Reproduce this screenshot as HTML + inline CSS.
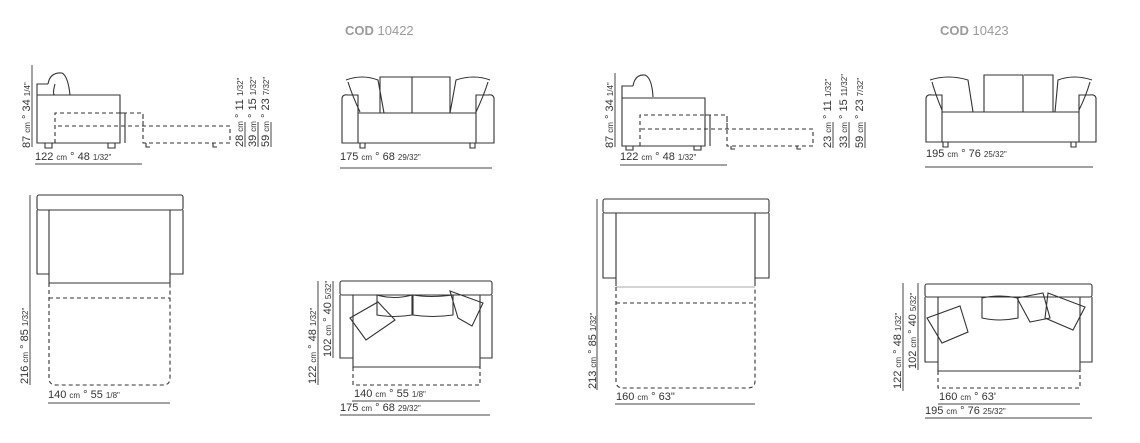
<!DOCTYPE html>
<html><head><meta charset="utf-8"><style>
html,body{margin:0;padding:0;background:#fff;}
svg{display:block;}
text{font-family:"Liberation Sans",sans-serif;fill:#333;}
.s{fill:none;stroke:#333;stroke-width:1.1;}
.d{fill:none;stroke:#333;stroke-width:1.1;stroke-dasharray:4 3;}
.l{fill:none;stroke:#444;stroke-width:1;}
.t{font-size:11px;}
.h{font-size:13px;font-weight:bold;fill:#9a9a9a;}
</style></head><body>
<svg width="1140" height="443" viewBox="0 0 1140 443" xmlns="http://www.w3.org/2000/svg">
<text class="h" x="345" y="35">COD <tspan font-weight="normal">10422</tspan></text>
<text class="h" x="940" y="35">COD <tspan font-weight="normal">10423</tspan></text>

<!-- Side view 1 -->
<path class="s" d="M37 143V84H48 M48 84 Q50 72 62 73 Q68 76 70 95 M55 84 Q52 95 55 95 M37 95H120V143H37 Z"/>
<path class="s" d="M120 113H125V143 M45 143v5h7v-5 M108 143v5h7v-5 M146 143v4h4 M213 143v4h4"/>
<path class="d" d="M55 143V113H143V143H230V126H55 M143 126V113"/>
<line class="l" x1="32" y1="65" x2="32" y2="147"/>
<text class="t" transform="translate(30,148) rotate(-90)">87 <tspan font-size="8">cm</tspan> ° 34 <tspan font-size="8">1/4"</tspan></text>
<text class="t" x="35" y="160">122 <tspan font-size="8">cm</tspan> ° 48 <tspan font-size="8">1/32"</tspan></text>
<line class="l" x1="35" y1="164" x2="142" y2="164"/>
<text class="t" transform="translate(243,147) rotate(-90)">28 <tspan font-size="8">cm</tspan> ° 11 <tspan font-size="8">1/32"</tspan></text>
<text class="t" transform="translate(256,147) rotate(-90)">39 <tspan font-size="8">cm</tspan> ° 15 <tspan font-size="8">1/32"</tspan></text>
<text class="t" transform="translate(269,147) rotate(-90)">59 <tspan font-size="8">cm</tspan> ° 23 <tspan font-size="8">7/32"</tspan></text>
<path class="l" d="M245 147V122 M258 147V122 M271 147V122"/>

<!-- Front view 1 -->
<path class="s" d="M342 143V98Q343 94 348 95H358V143Z M494 143V98Q493 94 488 95H476V143Z M358 113H476 M358 143H476"/>
<path class="s" d="M346 80Q362 74 378 80L384 113 M348 82Q352 95 360 112 M380 113V77H412V113 M412 77H450V113 M490 80Q474 74 456 80L450 113 M488 82Q484 95 476 112"/>
<path class="s" d="M360 143v5h5v-5 M470 143v5h5v-5"/>
<text class="t" x="340" y="160">175 <tspan font-size="8">cm</tspan> ° 68 <tspan font-size="8">29/32"</tspan></text>
<line class="l" x1="340" y1="168" x2="492" y2="168"/>

<!-- Plan view 1 -->
<rect class="s" x="37" y="195" width="146" height="15" rx="2"/>
<path class="s" d="M37 210V274H49 M183 210V274H170 M49 210H170V283H49Z"/>
<path class="d" d="M49 283V378Q49 385 56 385H163Q170 385 170 378V283 M49 298H170"/>
<line class="l" x1="30" y1="195" x2="30" y2="385"/>
<text class="t" transform="translate(28,384) rotate(-90)">216 <tspan font-size="8">cm</tspan> ° 85 <tspan font-size="8">1/32"</tspan></text>
<text class="t" x="48" y="398">140 <tspan font-size="8">cm</tspan> ° 55 <tspan font-size="8">1/8"</tspan></text>
<line class="l" x1="48" y1="403" x2="170" y2="403"/>

<!-- Plan view 2 -->
<rect class="s" x="340" y="281" width="152" height="14" rx="2"/>
<path class="s" d="M340 295V358H353 M492 295V358H480 M353 295V367H480V295"/>
<path class="d" d="M353 367V385H480V367"/>
<path class="s" d="M377 295Q394 300 412 295V315Q394 318 377 315Z M413 295Q430 298 453 295V315Q432 318 413 315Z M350 318L378 302L395 320L366 340Z M450 291L483 303L472 326L458 318Z"/>
<path class="l" d="M318 281V385 M333 281V358"/>
<text class="t" transform="translate(316,384) rotate(-90)">122 <tspan font-size="8">cm</tspan> ° 48 <tspan font-size="8">1/32"</tspan></text>
<text class="t" transform="translate(331,357) rotate(-90)">102 <tspan font-size="8">cm</tspan> ° 40 <tspan font-size="8">5/32"</tspan></text>
<text class="t" x="354" y="397">140 <tspan font-size="8">cm</tspan> ° 55 <tspan font-size="8">1/8"</tspan></text>
<line class="l" x1="352" y1="401" x2="480" y2="401"/>
<text class="t" x="340" y="411">175 <tspan font-size="8">cm</tspan> ° 68 <tspan font-size="8">29/32"</tspan></text>
<line class="l" x1="340" y1="415" x2="490" y2="415"/>

<!-- Side view 2 -->
<path class="s" d="M622 146V86H633 M633 86Q635 74 645 75Q652 78 653 97 M622 98H705V146H622Z"/>
<path class="s" d="M705 115H710V146 M626 146v4h7v-4 M694 146v4h7v-4 M731 146v3h4 M797 146v3h4"/>
<path class="d" d="M640 146V115H727V146H813V129H640 M727 129V115"/>
<line class="l" x1="615" y1="73" x2="615" y2="147"/>
<text class="t" transform="translate(613,148) rotate(-90)">87 <tspan font-size="8">cm</tspan> ° 34 <tspan font-size="8">1/4"</tspan></text>
<text class="t" x="620" y="160">122 <tspan font-size="8">cm</tspan> ° 48 <tspan font-size="8">1/32"</tspan></text>
<line class="l" x1="620" y1="165" x2="727" y2="165"/>
<text class="t" transform="translate(831,148) rotate(-90)">23 <tspan font-size="8">cm</tspan> ° 11 <tspan font-size="8">1/32"</tspan></text>
<text class="t" transform="translate(847,148) rotate(-90)">33 <tspan font-size="8">cm</tspan> ° 15 <tspan font-size="8">11/32"</tspan></text>
<text class="t" transform="translate(863,148) rotate(-90)">59 <tspan font-size="8">cm</tspan> ° 23 <tspan font-size="8">7/32"</tspan></text>
<path class="l" d="M833 148V122 M849 148V122 M865 148V122"/>

<!-- Front view 2 -->
<path class="s" d="M926 142V98Q927 94 932 95H942V142Z M1096 142V98Q1095 94 1090 95H1079V142Z M942 112H1079 M942 142H1079"/>
<path class="s" d="M930 80Q948 74 968 80L973 112 M932 82Q936 96 942 110 M984 112V75H1023V112 M1024 75H1053V112 M1092 80Q1074 74 1058 80L1055 112 M1090 82Q1086 96 1079 110"/>
<path class="s" d="M943 142v5h5v-5 M1071 142v5h5v-5"/>
<text class="t" x="926" y="157">195 <tspan font-size="8">cm</tspan> ° 76 <tspan font-size="8">25/32"</tspan></text>
<line class="l" x1="925" y1="167" x2="1093" y2="167"/>

<!-- Plan view 3 -->
<rect class="s" x="603" y="199" width="166" height="14" rx="2"/>
<path class="s" d="M603 213V278H616 M769 213V278H755 M616 213V286 M755 213V286"/>
<path class="l" d="M616 287H755" style="stroke:#aaa"/>
<path class="d" d="M616 287V381Q616 388 623 388H748Q755 388 755 381V287 M616 303H755"/>
<line class="l" x1="597" y1="199" x2="597" y2="390"/>
<text class="t" transform="translate(596,389) rotate(-90)">213 <tspan font-size="8">cm</tspan> ° 85 <tspan font-size="8">1/32"</tspan></text>
<text class="t" x="616" y="400">160 <tspan font-size="8">cm</tspan> ° 63"</text>
<line class="l" x1="615" y1="404" x2="755" y2="404"/>

<!-- Plan view 4 -->
<rect class="s" x="925" y="284" width="167" height="13" rx="2"/>
<path class="s" d="M925 297V362H938 M1092 297V362H1080 M938 297V371H1080V297"/>
<path class="d" d="M938 371V388H1080V371"/>
<path class="s" d="M982 298Q1000 294 1018 298V318Q1000 322 982 318Z M927 318L960 306L968 332L942 343Z M1017 298L1043 293L1050 318L1030 322Z M1048 293L1085 307L1073 330L1045 318Z"/>
<path class="l" d="M903 283V391 M918 283V370"/>
<text class="t" transform="translate(901,389) rotate(-90)">122 <tspan font-size="8">cm</tspan> ° 48 <tspan font-size="8">1/32"</tspan></text>
<text class="t" transform="translate(916,369) rotate(-90)">102 <tspan font-size="8">cm</tspan> ° 40 <tspan font-size="8">5/32"</tspan></text>
<text class="t" x="939" y="400">160 <tspan font-size="8">cm</tspan> ° 63'</text>
<line class="l" x1="938" y1="404" x2="1080" y2="404"/>
<text class="t" x="925" y="414">195 <tspan font-size="8">cm</tspan> ° 76 <tspan font-size="8">25/32"</tspan></text>
<line class="l" x1="925" y1="418" x2="1092" y2="418"/>
</svg>
</body></html>
